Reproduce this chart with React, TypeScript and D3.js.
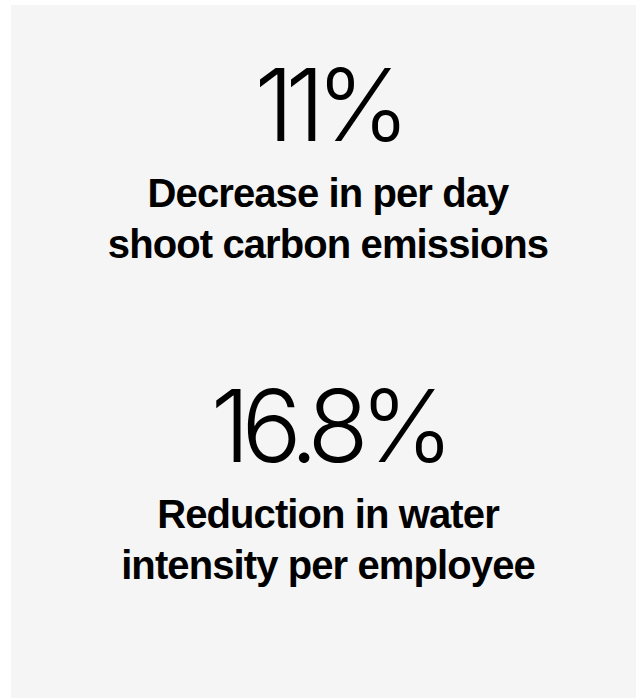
import * as d3 from 'd3'

const W = 636
const H = 698

// Headline stats and their captions
const statValues = ['11%', '16.8%']
const statLines = [
  ['Decrease in per day', 'shoot carbon emissions'],
  ['Reduction in water', 'intensity per employee'],
]

const BIG_FONT = 'Inter, "Liberation Sans", Arial, sans-serif'
const LABEL_FONT = '"Liberation Sans", Arial, sans-serif'

export default function App() {
  // each stat block is 321px tall
  const y = d3.scaleBand<number>().domain(d3.range(statValues.length)).range([0, 642])
  const cx = 328

  return (
    <svg width={W} height={H} style={{ position: 'absolute', left: 0, top: 0 }}>
      <rect x={11} y={5} width={W - 11} height={H - 5} fill="#f5f5f5" />
      {statValues.map((v, i) => {
        const top = y(i)!
        return (
          <g key={v} transform={`translate(0,${top})`}>
            <text
              x={cx}
              y={141}
              textAnchor="middle"
              fontFamily={BIG_FONT}
              fontWeight={300}
              fontSize={100}
              letterSpacing={-8.5}
              fill="#000"
            >
              {v}
            </text>
            {statLines[i].map((l, j) => (
              <text
                key={l}
                x={cx}
                y={207 + j * 51}
                textAnchor="middle"
                fontFamily={LABEL_FONT}
                fontWeight={700}
                fontSize={40}
                letterSpacing={-0.9}
                fill="#000"
              >
                {l}
              </text>
            ))}
          </g>
        )
      })}
    </svg>
  )
}
